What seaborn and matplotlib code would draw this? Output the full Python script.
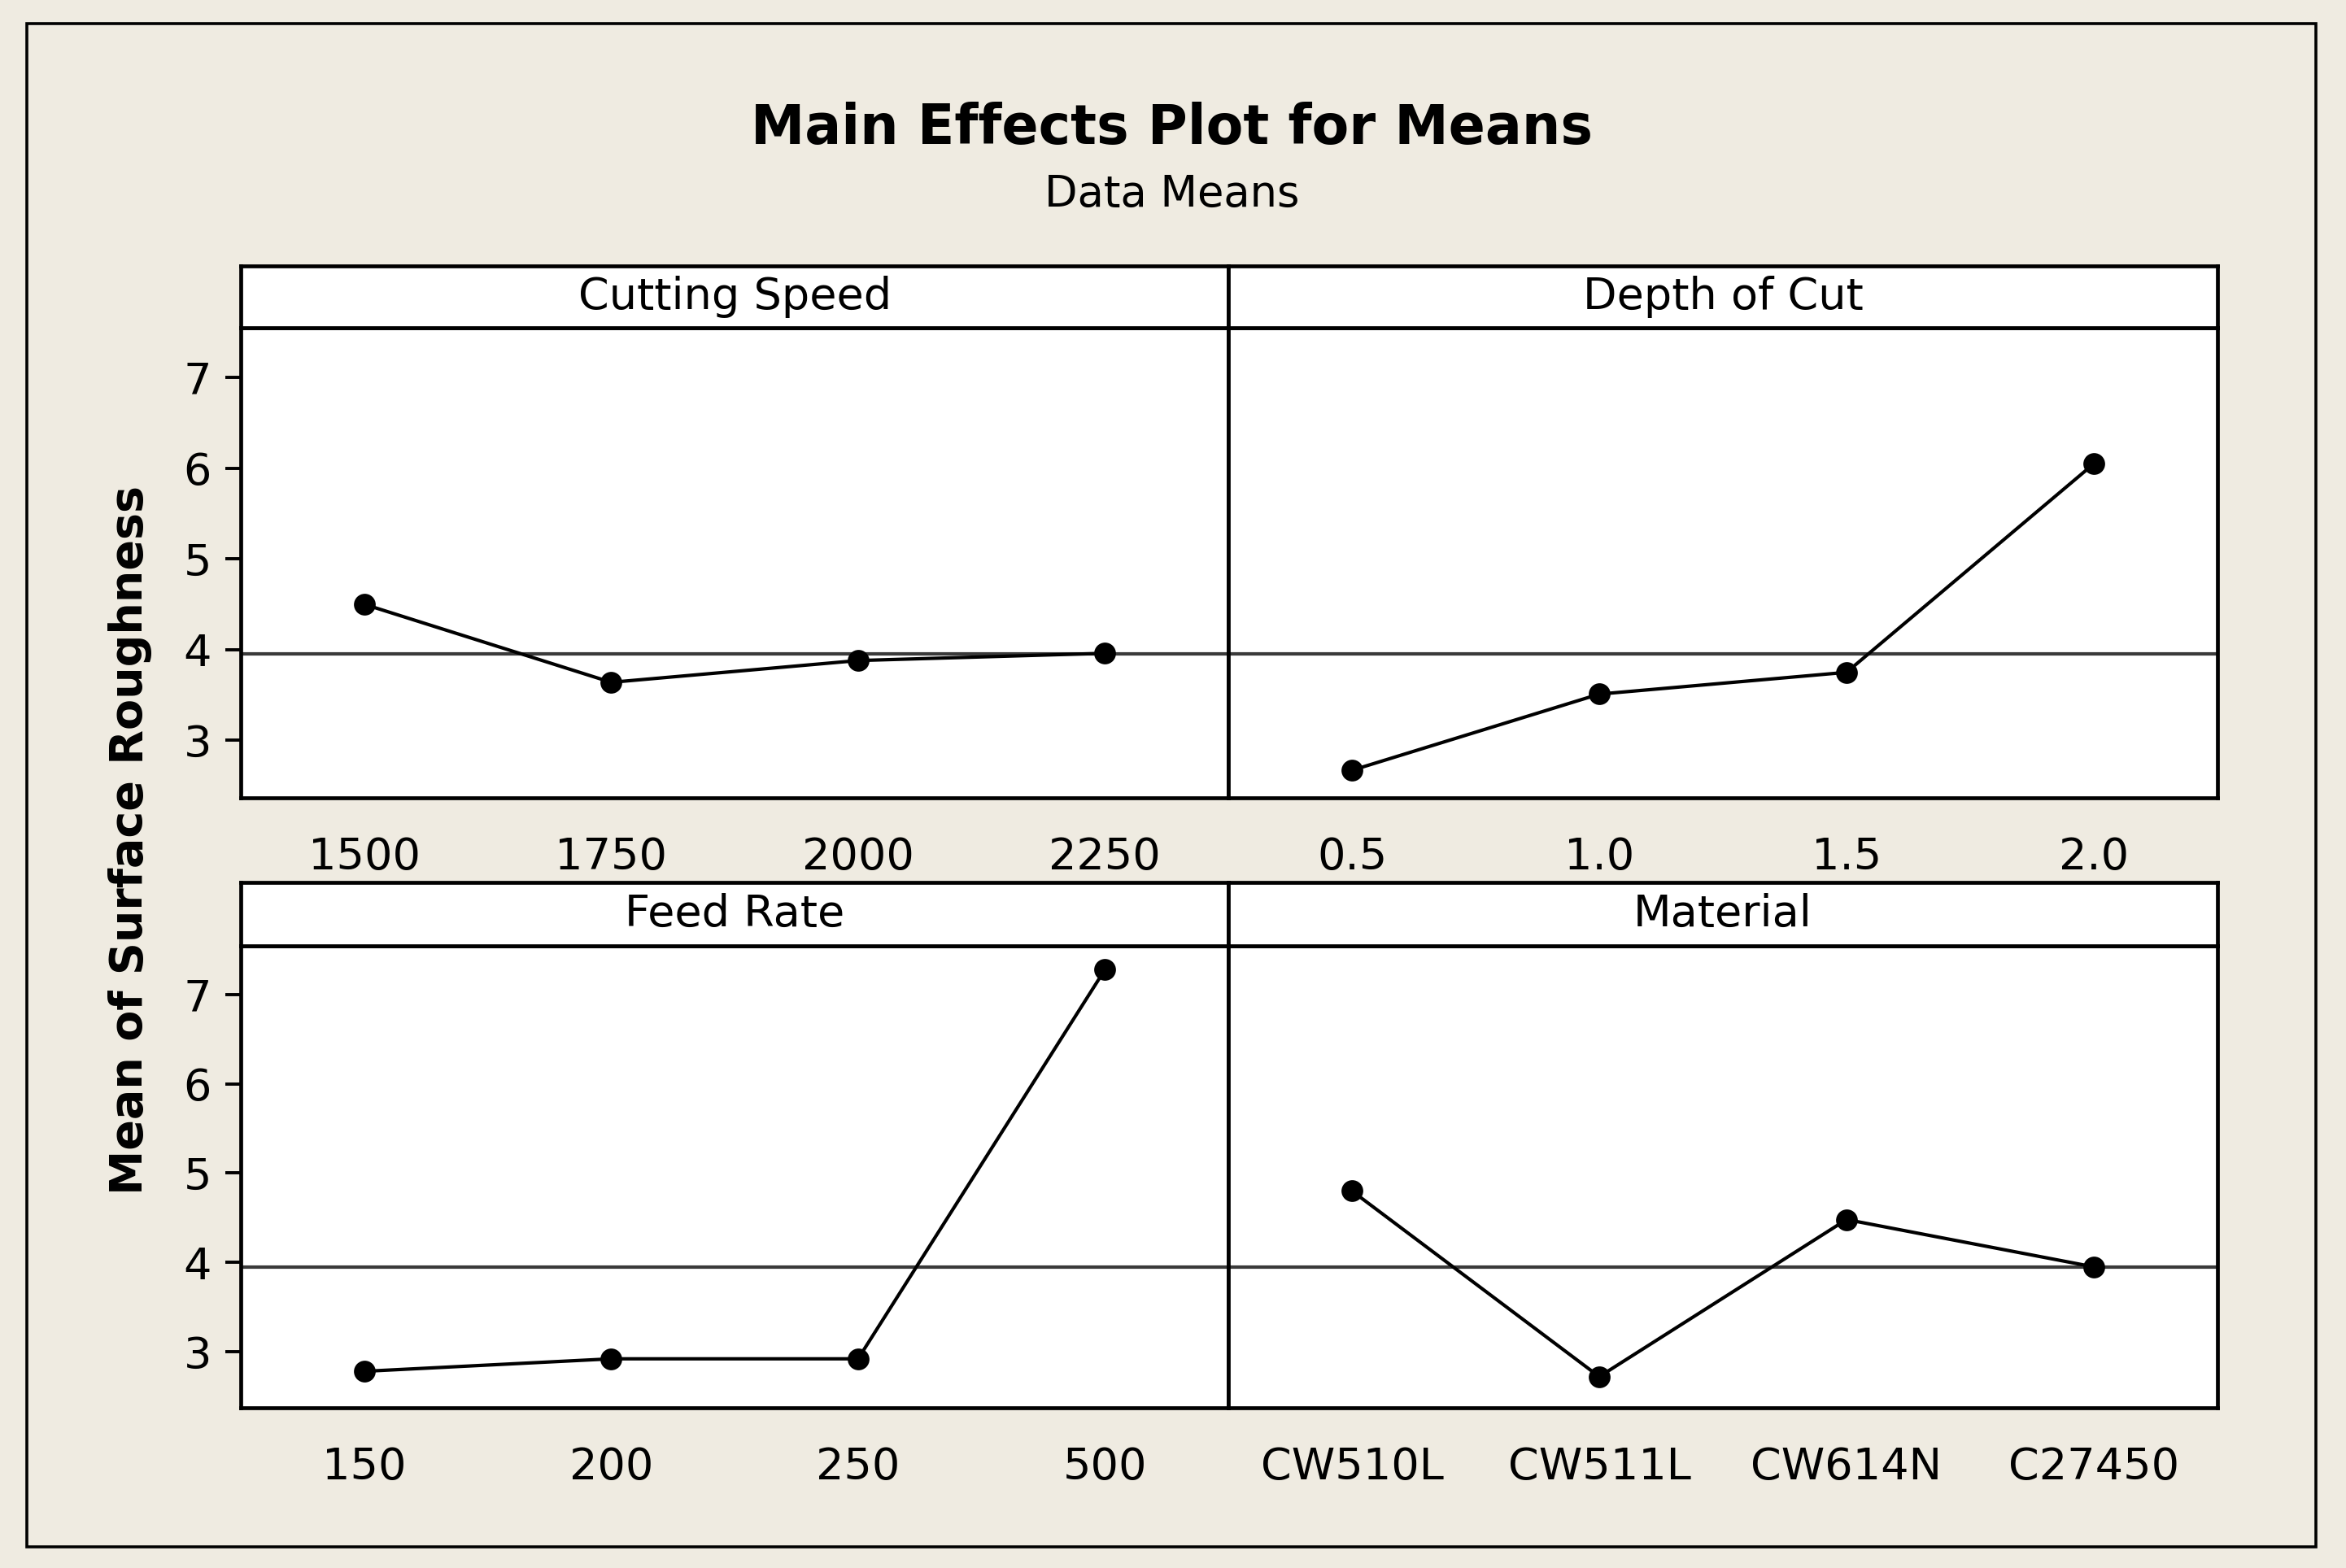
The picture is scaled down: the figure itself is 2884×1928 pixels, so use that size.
import matplotlib
matplotlib.use('Agg')
import matplotlib.pyplot as plt
import seaborn as sns
import pandas as pd
from matplotlib.patches import Rectangle

# ---- data ----
cutting_speed_levels = ['1500', '1750', '2000', '2250']
cutting_speed_means = [4.50, 3.64, 3.88, 3.96]
depth_levels = ['0.5', '1.0', '1.5', '2.0']
depth_means = [2.67, 3.51, 3.75, 6.05]
feed_levels = ['150', '200', '250', '500']
feed_means = [2.78, 2.92, 2.92, 7.28]
material_levels = ['CW510L', 'CW511L', 'CW614N', 'C27450']
material_means = [4.80, 2.72, 4.48, 3.95]
grand_mean = 3.95
y_ticks = [3, 4, 5, 6, 7]
panel_titles = ['Cutting Speed', 'Depth of Cut', 'Feed Rate', 'Material']

sns.set_style('white')
plt.rcParams['font.family'] = ['DejaVu Sans']
plt.rcParams['text.color'] = 'black'
plt.rcParams['xtick.color'] = 'black'
plt.rcParams['ytick.color'] = 'black'
plt.rcParams['axes.labelcolor'] = 'black'

BG = '#EFEBE1'
fig = plt.figure(figsize=(14.42, 9.64), dpi=200, facecolor=BG)

# outer frame
fig.patches.append(Rectangle((0.0115, 0.0134), 0.9755, 0.9713, transform=fig.transFigure,
                             fill=False, edgecolor='black', linewidth=1.3, zorder=0))

fig.text(0.4994, 0.918, 'Main Effects Plot for Means', ha='center', va='center',
         fontsize=24, fontweight='bold', color='black')
fig.text(0.4994, 0.876, 'Data Means', ha='center', va='center', fontsize=19, color='black')
fig.text(0.0555, 0.464, 'Mean of Surface Roughness', ha='center', va='center',
         rotation=90, fontsize=20, fontweight='bold', color='black')

x_left = 0.1027
x_mid = 0.5236
x_right = 0.9452
rows = [
    dict(strip_top=0.8302, strip_bot=0.7910, ax_bot=0.4914),
    dict(strip_top=0.4370, strip_bot=0.3970, ax_bot=0.1021),
]
panels = [
    (cutting_speed_levels, cutting_speed_means, 0, 0),
    (depth_levels, depth_means, 0, 1),
    (feed_levels, feed_means, 1, 0),
    (material_levels, material_means, 1, 1),
]
ylim = (2.37, 7.55)
LW = 1.7

for (levels, means, r, c), title in zip(panels, panel_titles):
    x0 = x_left if c == 0 else x_mid
    x1 = x_mid if c == 0 else x_right
    rr = rows[r]
    ax = fig.add_axes([x0, rr['ax_bot'], x1 - x0, rr['strip_bot'] - rr['ax_bot']])
    ax.set_facecolor('white')
    df = pd.DataFrame({'level': levels, 'mean': means})
    ax.axhline(grand_mean, color='#3a3a3a', linewidth=1.5, zorder=1)
    sns.pointplot(data=df, x='level', y='mean', order=levels, ax=ax, color='black',
                  markers='o', markersize=8.5, linewidth=1.5, errorbar=None, zorder=3)
    ax.set_xlim(-0.5, len(levels) - 0.5)
    ax.set_ylim(*ylim)
    ax.set_xlabel('')
    ax.set_ylabel('')
    ax.set_xticks(range(len(levels)))
    ax.set_xticklabels(levels, fontsize=19.5)
    ax.tick_params(axis='x', direction='out', length=9, width=1.4, pad=8, colors='black')
    if c == 0:
        ax.set_yticks(y_ticks)
        ax.set_yticklabels([str(v) for v in y_ticks], fontsize=19.5)
        ax.tick_params(axis='y', direction='out', length=7, width=1.4, pad=6, left=True,
                       colors='black')
    else:
        ax.set_yticks([])
    for s in ax.spines.values():
        s.set_visible(True)
        s.set_color('black')
        s.set_linewidth(LW)
    # strip header
    sax = fig.add_axes([x0, rr['strip_bot'], x1 - x0, rr['strip_top'] - rr['strip_bot']])
    sax.set_facecolor('white')
    sax.set_xticks([])
    sax.set_yticks([])
    for s in sax.spines.values():
        s.set_visible(True)
        s.set_color('black')
        s.set_linewidth(LW)
    sax.text(0.5, 0.5, title, ha='center', va='center', fontsize=19.5, color='black',
             transform=sax.transAxes)

fig.savefig('out.png', dpi=200, facecolor=BG)
